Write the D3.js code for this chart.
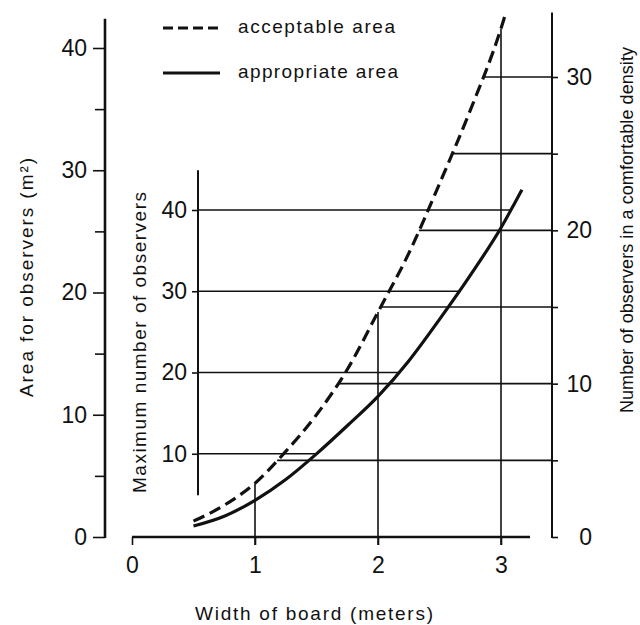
<!DOCTYPE html>
<html>
<head>
<meta charset="utf-8">
<script src="https://cdn.jsdelivr.net/npm/d3@7"></script>
<style>
  body { margin: 0; background: #fff; }
  text { font-family: "Liberation Sans", Arial, sans-serif; fill: #111; }
</style>
</head>
<body>
<div class="chart"></div>
<script>
// data
const acceptableWidth = [0.5, 0.75, 1, 1.25, 1.5, 1.75, 2, 2.25, 2.5, 2.75, 3, 3.04];
const acceptableArea  = [1.3, 2.6, 4.4, 7.0, 10.0, 13.7, 18.4, 23.2, 28.9, 34.9, 41.6, 42.9];
const appropriateWidth = [0.5, 0.75, 1, 1.25, 1.5, 1.75, 2, 2.25, 2.5, 2.75, 3, 3.1, 3.17];
const appropriateArea  = [0.9, 1.7, 3.0, 4.7, 6.8, 9.1, 11.5, 14.4, 17.8, 21.4, 25.3, 27.1, 28.4];

const widthTicks = [0, 1, 2, 3];
const areaTicks = [0, 10, 20, 30, 40];
const areaMinorTicks = [5, 15, 25, 35];
const maxTicks = [10, 20, 30, 40];
const comfortTicks = [0, 5, 10, 15, 20, 25, 30];
const comfortLabels = [0, 10, 20, 30];

const widthGuides = [1, 2, 3];
const maxGuides = [10, 20, 30, 40];
const comfortGuides = [5, 10, 15, 20, 25, 30];

const W = 640, H = 625;
const leftAxisX = 105, midAxisX = 198, rightAxisX = 552;

const svg = d3.select(".chart").append("svg")
    .attr("width", W).attr("height", H);

// scales
const x = d3.scaleLinear().domain([0, 3]).range([132, 501]);
const yArea = d3.scaleLinear().domain([0, 40]).range([537, 48]);
const yMax = d3.scaleLinear().domain([0, 40]).range([535, 210]);
const yComfort = d3.scaleLinear().domain([0, 30]).range([537, 77]);

// linear lookup on a curve, both ways
function lookup(xs, ys, v) {
  for (let i = 0; i < xs.length - 1; i++) {
    if (v >= xs[i] && v <= xs[i + 1]) {
      return ys[i] + (v - xs[i]) / (xs[i + 1] - xs[i]) * (ys[i + 1] - ys[i]);
    }
  }
  return ys[ys.length - 1];
}
const acceptableAt = w => lookup(acceptableWidth, acceptableArea, w);
const widthOfAcceptable = a => lookup(acceptableArea, acceptableWidth, a);
const widthOfAppropriate = a => lookup(appropriateArea, appropriateWidth, a);

const ink = "#111";
const grid = svg.append("g").attr("stroke", ink).attr("stroke-width", 1.6);

// verticals from the width axis up to the acceptable curve
grid.selectAll("line.v").data(widthGuides).join("line")
    .attr("x1", d => x(d)).attr("x2", d => x(d))
    .attr("y1", yArea(0) + 8).attr("y2", d => yArea(acceptableAt(d)));

// maximum number lines: middle axis -> appropriate curve
grid.selectAll("line.m").data(maxGuides).join("line")
    .attr("x1", midAxisX)
    .attr("x2", d => x(widthOfAppropriate(yArea.invert(yMax(d)))))
    .attr("y1", d => yMax(d)).attr("y2", d => yMax(d));

// comfortable density lines: acceptable curve -> right axis
grid.selectAll("line.c").data(comfortGuides).join("line")
    .attr("x1", d => x(widthOfAcceptable(yArea.invert(yComfort(d)))))
    .attr("x2", rightAxisX)
    .attr("y1", d => yComfort(d)).attr("y2", d => yComfort(d));

// curves
const line = d3.line().curve(d3.curveMonotoneX);
svg.append("path")
    .attr("d", line(acceptableWidth.map((w, i) => [x(w), yArea(acceptableArea[i])])))
    .attr("fill", "none").attr("stroke", ink).attr("stroke-width", 3.2)
    .attr("stroke-dasharray", "12,6");
svg.append("path")
    .attr("d", line(appropriateWidth.map((w, i) => [x(w), yArea(appropriateArea[i])])))
    .attr("fill", "none").attr("stroke", ink).attr("stroke-width", 3.2);

// axes
function styleAxis(g, size) {
  g.select(".domain").remove();
  g.selectAll(".tick line").attr("stroke", ink).attr("stroke-width", 1.6);
  g.selectAll(".tick text").attr("font-size", size).attr("fill", ink)
      .attr("font-family", "'Liberation Sans', Arial, sans-serif");
}

// left: area
const leftAxis = svg.append("g").attr("transform", `translate(${leftAxisX},0)`);
leftAxis.call(d3.axisLeft(yArea).tickValues(areaTicks).tickSize(12).tickPadding(6).tickSizeOuter(0))
    .call(g => styleAxis(g, 23));
leftAxis.append("g")
    .call(d3.axisLeft(yArea).tickValues(areaMinorTicks).tickSize(10).tickFormat("").tickSizeOuter(0))
    .call(g => styleAxis(g, 23));
leftAxis.append("line").attr("y1", yArea(0) + 1).attr("y2", yArea(42.4))
    .attr("stroke", ink).attr("stroke-width", 2.6);

// middle: maximum number
const midAxis = svg.append("g").attr("transform", `translate(${midAxisX},0)`);
midAxis.call(d3.axisLeft(yMax).tickValues(maxTicks).tickSize(6).tickPadding(5).tickSizeOuter(0))
    .call(g => styleAxis(g, 23));
midAxis.append("line").attr("y1", yMax(4.9)).attr("y2", yMax(44.9))
    .attr("stroke", ink).attr("stroke-width", 2);

// right: comfortable density
const rightAxis = svg.append("g").attr("transform", `translate(${rightAxisX},0)`);
rightAxis.call(d3.axisRight(yComfort).tickValues(comfortTicks).tickSize(6).tickSizeOuter(0)
      .tickFormat(d => comfortLabels.includes(d) ? d : ""))
    .call(g => styleAxis(g, 23));
rightAxis.selectAll(".tick text").attr("text-anchor", "end").attr("x", 40);
rightAxis.append("line").attr("y1", yComfort(0) + 1).attr("y2", yComfort(34.2))
    .attr("stroke", ink).attr("stroke-width", 2);

// bottom: width
const bottomAxis = svg.append("g").attr("transform", `translate(0,${yArea(0)})`);
bottomAxis.call(d3.axisBottom(x).tickValues(widthTicks).tickFormat(d3.format("d"))
      .tickSize(8).tickPadding(12).tickSizeOuter(0))
    .call(g => styleAxis(g, 23));
bottomAxis.append("line").attr("x1", x(0)).attr("x2", x(3.236))
    .attr("stroke", ink).attr("stroke-width", 2.6);

// titles
function title(txt, tx, ty, rot, len, size) {
  svg.append("text")
      .attr("transform", `translate(${tx},${ty}) rotate(${rot})`)
      .attr("font-size", size)
      .attr("textLength", len).attr("lengthAdjust", "spacing")
      .text(txt);
}
title("Area for observers (m²)", 33, 397, -90, 239, 19);
title("Maximum number of observers", 146, 493, -90, 301, 19);
title("Number of observers in a comfortable density", 633, 413, -90, 366, 18);
title("Width of board (meters)", 195, 620, 0, 238, 19);

// legend
const legend = [
  {label: "acceptable area", dash: "10,5", y: 28, len: 157},
  {label: "appropriate area", dash: null, y: 73, len: 160}
];
const lg = svg.append("g");
lg.selectAll("line").data(legend).join("line")
    .attr("x1", 163).attr("x2", 220)
    .attr("y1", d => d.y).attr("y2", d => d.y)
    .attr("stroke", ink).attr("stroke-width", 3.2)
    .attr("stroke-dasharray", d => d.dash);
lg.selectAll("text").data(legend).join("text")
    .attr("x", 238).attr("y", d => d.y + 5)
    .attr("font-size", 19)
    .attr("textLength", d => d.len).attr("lengthAdjust", "spacing")
    .text(d => d.label);
</script>
</body>
</html>
